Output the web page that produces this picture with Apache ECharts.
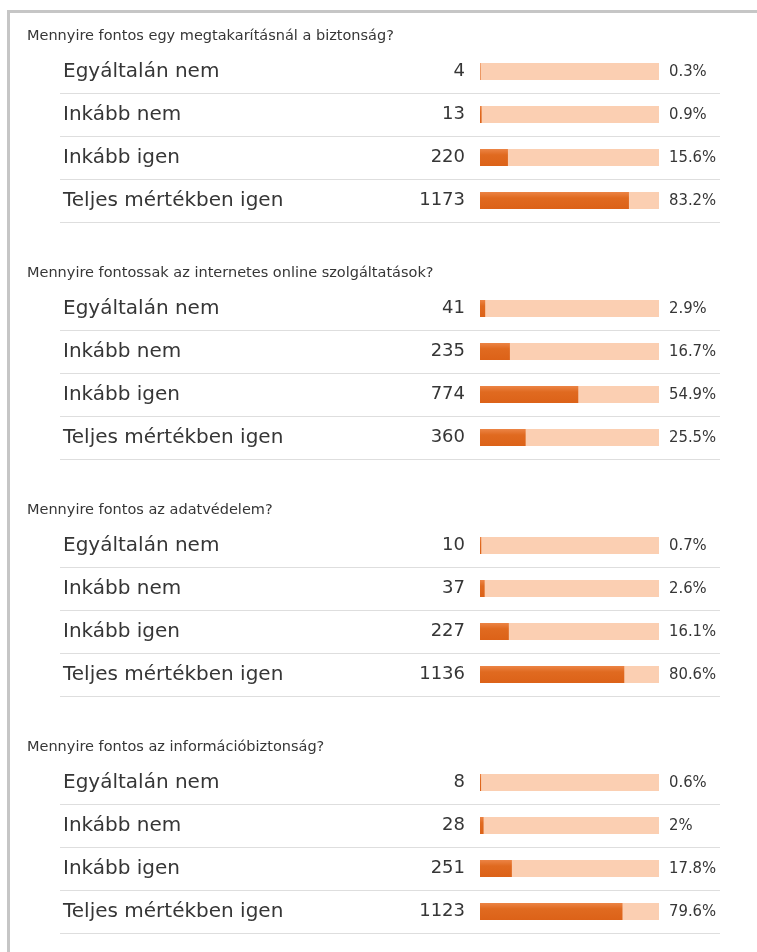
<!DOCTYPE html>
<html>
<head>
<meta charset="utf-8">
<script src="https://cdn.jsdelivr.net/npm/echarts@6/dist/echarts.min.js"></script>
<style>
html,body{margin:0;padding:0;background:#fff;}
#chart{width:757px;height:952px;}
</style>
</head>
<body>
<div id="chart"></div>
<script>
const titles = [
  "Mennyire fontos egy megtakarításnál a biztonság?",
  "Mennyire fontossak az internetes online szolgáltatások?",
  "Mennyire fontos az adatvédelem?",
  "Mennyire fontos az információbiztonság?"
];
const categories = ["Egyáltalán nem", "Inkább nem", "Inkább igen", "Teljes mértékben igen"];
const counts1 = [4, 13, 220, 1173];
const pct1 = [0.3, 0.9, 15.6, 83.2];
const counts2 = [41, 235, 774, 360];
const pct2 = [2.9, 16.7, 54.9, 25.5];
const counts3 = [10, 37, 227, 1136];
const pct3 = [0.7, 2.6, 16.1, 80.6];
const counts4 = [8, 28, 251, 1123];
const pct4 = [0.6, 2, 17.8, 79.6];
const fullScale = [100, 100, 100, 100];

const countsAll = [counts1, counts2, counts3, counts4];
const pctAll = [pct1, pct2, pct3, pct4];

const FONT = "DejaVu Sans";
const TEXT = "#363636";
const sectionTops = [50, 287, 524, 761];
const rowBlock = 172;

const chart = echarts.init(document.getElementById('chart'));
const option = {
  animation: false,
  backgroundColor: '#fff',
  title: [], grid: [], xAxis: [], yAxis: [], series: [],
  graphic: [{
    type: 'rect',
    shape: {x: 8.5, y: 11.5, width: 900, height: 1100},
    style: {fill: 'none', stroke: '#c6c6c6', lineWidth: 3},
    silent: true
  }]
};

sectionTops.forEach((top, i) => {
  option.title.push({
    text: titles[i], left: 27, top: top - 24, padding: 0,
    textStyle: {fontFamily: FONT, fontSize: 14.5, fontWeight: 'normal', color: TEXT, lineHeight: 20}
  });
  // label / separator grid
  const ga = option.grid.length;
  option.grid.push({left: 60, width: 660, top: top, height: rowBlock});
  option.xAxis.push({gridIndex: ga, type: 'value', min: 0, max: 1, show: false});
  option.yAxis.push({
    gridIndex: ga, type: 'category', inverse: true, data: categories,
    axisLine: {show: false}, axisTick: {show: false},
    axisLabel: {inside: true, margin: 3, fontFamily: FONT, fontSize: 20, color: TEXT},
    splitLine: {show: true, showMinLine: false, lineStyle: {color: '#dedede', width: 1}}
  });
  // bar grid
  const gb = option.grid.length;
  option.grid.push({left: 480, width: 179, top: top, height: rowBlock});
  option.xAxis.push({gridIndex: gb, type: 'value', min: 0, max: 100, show: false});
  option.yAxis.push({gridIndex: gb, type: 'category', inverse: true, data: categories, show: false});
  const counts = countsAll[i];
  const pct = pctAll[i];
  option.series.push({
    type: 'bar', xAxisIndex: gb, yAxisIndex: gb, data: fullScale,
    barWidth: 17, barGap: '-100%', silent: true,
    itemStyle: {color: '#fbcfb2'},
    label: {
      show: true, position: 'left', distance: 15,
      formatter: p => String(counts[p.dataIndex]),
      fontFamily: FONT, fontSize: 18, color: TEXT
    },
    z: 1
  });
  option.series.push({
    type: 'bar', xAxisIndex: gb, yAxisIndex: gb, data: pct,
    barWidth: 17, barGap: '-100%', silent: true,
    itemStyle: {color: new echarts.graphic.LinearGradient(0, 0, 0, 1, [
      {offset: 0, color: '#ec8445'}, {offset: 0.35, color: '#e06a20'}, {offset: 1, color: '#dc6218'}
    ])},
    z: 2
  });
  // percent labels via invisible full-scale series
  option.series.push({
    type: 'bar', xAxisIndex: gb, yAxisIndex: gb, data: fullScale,
    barWidth: 17, barGap: '-100%', silent: true,
    itemStyle: {color: 'rgba(0,0,0,0)'},
    label: {
      show: true, position: 'right', distance: 10,
      formatter: p => pct[p.dataIndex] + '%',
      fontFamily: "DejaVu Sans Condensed", fontSize: 16.5, color: TEXT
    },
    z: 3
  });
});

chart.setOption(option);
</script>
</body>
</html>
